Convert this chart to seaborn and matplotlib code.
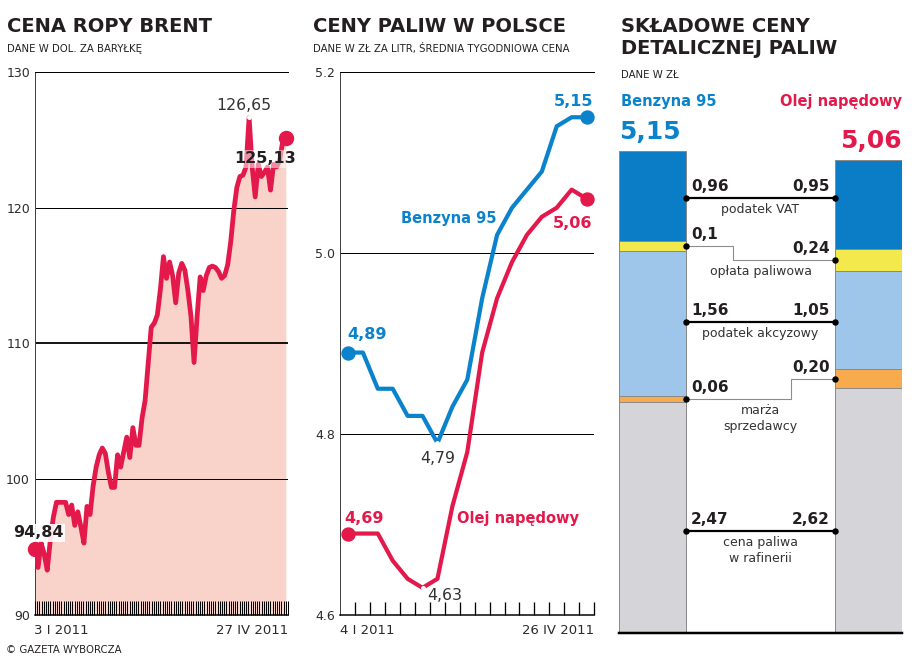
import numpy as np
import pandas as pd
import matplotlib.pyplot as plt
import seaborn as sns

# brent oil, daily close, USD per barrel (trading days 3 I - 27 IV 2011)
brent_price = [
    94.84, 93.5, 95.3, 94.5, 93.3, 95.5, 97.2, 98.3, 98.3, 98.3,
    98.3, 97.4, 98.1, 96.6, 97.6, 96.5, 95.3, 98.0, 97.4, 99.5,
    100.9, 101.8, 102.3, 101.9, 100.5, 99.4, 99.4, 101.8, 100.9, 102.0,
    103.1, 101.6, 103.8, 102.5, 102.5, 104.5, 105.8, 108.5, 111.2, 111.5,
    112.1, 114.0, 116.4, 114.8, 116.0, 115.0, 113.0, 115.2, 115.9, 115.4,
    113.9, 112.0, 108.6, 112.0, 114.9, 113.9, 115.0, 115.6, 115.7, 115.6,
    115.3, 114.8, 115.0, 115.8, 117.5, 119.8, 121.5, 122.3, 122.4, 123.0,
    126.65, 123.0, 120.8, 123.2, 122.3, 122.6, 123.0, 121.3, 123.2, 123.0,
    123.5, 124.9, 125.13,
]
n_calendar_days = 115  # 3 I - 27 IV, one tick mark per day

# weekly average fuel prices, PLN per litre (4 I - 26 IV 2011)
pb95_price = [4.89, 4.89, 4.85, 4.85, 4.82, 4.82, 4.79, 4.83, 4.86,
              4.95, 5.02, 5.05, 5.07, 5.09, 5.14, 5.15, 5.15]
on_price = [4.69, 4.69, 4.69, 4.66, 4.64, 4.63, 4.64, 4.72, 4.78,
            4.89, 4.95, 4.99, 5.02, 5.04, 5.05, 5.07, 5.06]

# components of the retail price, PLN
fuels = ['Benzyna 95', 'Olej napędowy']
refinery = [2.47, 2.62]
margin = [0.06, 0.20]
excise = [1.56, 1.05]
fuel_fee = [0.10, 0.24]
vat = [0.96, 0.95]

RED = '#e3194b'
BLUE = '#0b83cc'
PINK = '#f9d3c9'
DARK = '#231f20'
TXT = '#2a2a2a'

sns.set_style('white')
plt.rcParams['font.family'] = ['DejaVu Sans']

W, H = 914, 657


def box(x0, y0, x1, y1):
    # pixel rectangle -> figure fraction
    return [x0 / W, 1 - y1 / H, (x1 - x0) / W, (y1 - y0) / H]


def px(n):
    # pixels -> points (dpi 100)
    return n * 0.72


def fmt(v):
    return f'{v:.2f}'.replace('.', ',')


fig = plt.figure(figsize=(W / 100, H / 100), dpi=100)

# ---------------- panel 1: brent ----------------
ax1 = fig.add_axes(box(35, 72, 288, 615))
ax1.set_axisbelow(False)
df_b = pd.DataFrame({'day': np.arange(len(brent_price)), 'price': brent_price})
ax1.fill_between(df_b['day'], df_b['price'], 90, color=PINK, lw=0, zorder=1)
for y, w in [(100, 1), (110, 1.8), (120, 1)]:
    ax1.axhline(y, color='black', lw=px(w), zorder=1.5)
sns.lineplot(data=df_b, x='day', y='price', ax=ax1, color=RED, lw=px(4.8), zorder=3)
ax1.set_xlim(0, 82.4)
ax1.set_ylim(90, 130)
# calendar-day tick marks spread over the trading-day axis
ax1.set_xticks(np.arange(n_calendar_days + 1) * (len(brent_price) - 1) / (n_calendar_days - 1))
ax1.set_xticklabels([])
ax1.set_yticks([90, 100, 110, 120, 130])
ax1.tick_params(axis='x', direction='in', length=px(14), width=px(1), color='black', bottom=True)
ax1.tick_params(axis='y', length=0, pad=px(5), labelsize=9, labelcolor=TXT)
ax1.set_xlabel('')
ax1.set_ylabel('')
ax1.spines['right'].set_visible(False)
ax1.spines['top'].set_linewidth(px(1))
ax1.spines['top'].set_color('black')
ax1.spines['left'].set_color('#444444')
ax1.spines['left'].set_linewidth(px(1))
ax1.spines['bottom'].set_color('black')
ax1.spines['bottom'].set_linewidth(px(1.5))

first, last = brent_price[0], brent_price[-1]
i_max = int(np.argmax(brent_price))
ax1.plot([0, len(brent_price) - 1], [first, last], 'o', ms=px(14), color=RED,
         clip_on=False, zorder=4)
ax1.plot([i_max], [brent_price[i_max]], 'o', ms=px(3.5), color='white', zorder=5)
ax1.annotate(fmt(first), (0, first), xytext=(px(3), px(12)), textcoords='offset points',
             ha='center', va='baseline', fontsize=11.4, fontweight='bold', color=DARK,
             bbox=dict(fc='white', ec='none', pad=1, alpha=0.9), annotation_clip=False, zorder=6)
ax1.annotate(fmt(brent_price[i_max]), (i_max, brent_price[i_max]), xytext=(px(-5), px(7.5)),
             textcoords='offset points', ha='center', va='baseline', fontsize=11.3,
             color='#333333', zorder=6)
ax1.annotate(fmt(last), (len(brent_price) - 1, last), xytext=(px(-21), px(-25)),
             textcoords='offset points', ha='center', va='baseline', fontsize=11.5,
             fontweight='bold', color=DARK, annotation_clip=False, zorder=6,
             bbox=dict(fc='white', ec='none', pad=1, alpha=0.5))

# ---------------- panel 2: weekly fuel prices ----------------
ax2 = fig.add_axes(box(340, 72, 594, 615))
ax2.set_axisbelow(False)
df_w = pd.DataFrame({'week': np.arange(len(pb95_price)), 'pb95': pb95_price, 'on': on_price})
for y in [4.8, 5.0]:
    ax2.axhline(y, color='black', lw=px(1), zorder=1)
sns.lineplot(data=df_w, x='week', y='pb95', ax=ax2, color=BLUE, lw=px(4.2), zorder=3)
sns.lineplot(data=df_w, x='week', y='on', ax=ax2, color=RED, lw=px(4.2), zorder=3)
n_w = len(pb95_price)
ax2.set_xlim(-0.536, n_w - 1 + 0.49)
ax2.set_ylim(4.6, 5.2)
ax2.set_xticks(np.arange(n_w) + 0.5)
ax2.set_xticklabels([])
ax2.set_yticks([4.6, 4.8, 5.0, 5.2])
ax2.set_yticklabels(['4.6', '4.8', '5.0', '5.2'])
ax2.tick_params(axis='x', direction='in', length=px(13), width=px(1.3), color='black', bottom=True)
ax2.tick_params(axis='y', length=0, pad=px(5), labelsize=9, labelcolor=TXT)
ax2.set_xlabel('')
ax2.set_ylabel('')
ax2.spines['right'].set_visible(False)
ax2.spines['top'].set_linewidth(px(1))
ax2.spines['top'].set_color('black')
ax2.spines['left'].set_color('#444444')
ax2.spines['left'].set_linewidth(px(1))
ax2.spines['bottom'].set_color('black')
ax2.spines['bottom'].set_linewidth(px(1.5))

for series, col in [(pb95_price, BLUE), (on_price, RED)]:
    ax2.plot([0, n_w - 1], [series[0], series[-1]], 'o', ms=px(13), color=col,
             clip_on=False, zorder=4)
    i_min = int(np.argmin(series))
    ax2.plot([i_min], [series[i_min]], 'o', ms=px(3.5), color='white', zorder=5)

ann = dict(textcoords='offset points', ha='center', va='baseline', annotation_clip=False, zorder=6)
ax2.annotate(fmt(pb95_price[0]), (0, pb95_price[0]), xytext=(px(19), px(14)),
             fontsize=11.5, fontweight='bold', color=BLUE, **ann)
ax2.annotate(fmt(on_price[0]), (0, on_price[0]), xytext=(px(16), px(11)),
             fontsize=11.5, fontweight='bold', color=RED, **ann)
ax2.annotate(fmt(pb95_price[-1]), (n_w - 1, pb95_price[-1]), xytext=(px(-13), px(11)),
             fontsize=11.5, fontweight='bold', color=BLUE, **ann)
ax2.annotate(fmt(on_price[-1]), (n_w - 1, on_price[-1]), xytext=(px(-14), px(-29)),
             fontsize=11.5, fontweight='bold', color=RED, **ann)
i_b = int(np.argmin(pb95_price))
i_o = int(np.argmin(on_price))
ax2.annotate(fmt(pb95_price[i_b]), (i_b, pb95_price[i_b]), xytext=(0, px(-20)),
             fontsize=11.3, color='#333333', **ann)
ax2.annotate(fmt(on_price[i_o]), (i_o, on_price[i_o]), xytext=(px(22), px(-12)),
             fontsize=11.3, color='#333333', **ann)
ax2.text(9.99, 5.033, 'Benzyna 95', ha='right', va='baseline', fontsize=10.5,
         fontweight='bold', color=BLUE)
ax2.text(7.3, 4.7017, 'Olej napędowy', ha='left', va='baseline', fontsize=10.5,
         fontweight='bold', color=RED)

# ---------------- panel 3: price components ----------------
ax3 = fig.add_axes(box(619, 72, 902, 633))
stack = np.array([refinery, margin, excise, fuel_fee, vat])
cum = stack.cumsum(axis=0)
seg_colors = ['#d5d5d9', '#f8ab4d', '#9dc6ea', '#f4e94c', '#0a7dc6']
for k in reversed(range(len(stack))):
    sns.barplot(x=fuels, y=cum[k], color=seg_colors[k], width=0.31, saturation=1,
                edgecolor='#8a8a8a', linewidth=px(1), ax=ax3)
ax3.set_xlim(-0.155, 1.155)
ax3.set_ylim(0, 6.0)
ax3.set_xticks([])
ax3.set_yticks([])
ax3.set_xlabel('')
ax3.set_ylabel('')
for s in ['left', 'right', 'top']:
    ax3.spines[s].set_visible(False)
ax3.spines['bottom'].set_color('black')
ax3.spines['bottom'].set_linewidth(px(2.5))

names = ['cena paliwa\nw rafinerii', 'marża\nsprzedawcy', 'podatek akcyzowy',
         'opłata paliwowa', 'podatek VAT']
labels = [[fmt(v) for v in row] for row in stack]
labels[3][0] = '0,1'  # printed this way in the source
link_y = [1.09, None, 3.33, None, 4.65]   # straight connectors
step_x = [None, 0.641, None, 0.373, None]  # stepped connectors
xl, xr = 0.155, 0.845
for k in range(len(stack)):
    if link_y[k] is not None:
        yl = yr = link_y[k]
        ax3.plot([xl, xr], [yl, yr], color='black', lw=px(2.2), zorder=5)
    else:
        yl = cum[k][0] - stack[k][0] / 2
        yr = cum[k][1] - stack[k][1] / 2
        sx = step_x[k]
        ax3.plot([xl, sx, sx, xr], [yl, yl, yr, yr], color='#8c8c8c', lw=px(1.1), zorder=5)
    ax3.plot([xl, xr], [yl, yr], 'o', color='black', ms=px(5), zorder=6)
    ax3.annotate(labels[k][0], (xl, yl), xytext=(px(5), px(4)), textcoords='offset points',
                 ha='left', va='bottom', fontsize=11, fontweight='bold', color=DARK)
    ax3.annotate(labels[k][1], (xr, yr), xytext=(px(-5), px(4)), textcoords='offset points',
                 ha='right', va='bottom', fontsize=11, fontweight='bold', color=DARK)
    ax3.annotate(names[k], (0.5, min(yl, yr)), xytext=(0, px(-5)), textcoords='offset points',
                 ha='center', va='top', fontsize=9, color='#333333', linespacing=1.3)

totals = cum[-1]
ax3.annotate(fmt(totals[0]), (-0.155, totals[0]), xytext=(0, px(12)), textcoords='offset points',
             ha='left', va='baseline', fontsize=18, fontweight='bold', color=BLUE,
             annotation_clip=False)
ax3.annotate(fmt(totals[1]), (1.155, totals[1]), xytext=(0, px(12)), textcoords='offset points',
             ha='right', va='baseline', fontsize=18, fontweight='bold', color=RED,
             annotation_clip=False)

# ---------------- titles and texts ----------------
def ftext(x, y, s, **kw):
    kw.setdefault('color', DARK)
    kw.setdefault('va', 'baseline')
    fig.text(x / W, 1 - y / H, s, **kw)


ftext(7, 32, 'CENA ROPY BRENT', fontsize=14, fontweight='bold')
ftext(7, 52, 'DANE W DOL. ZA BARYŁKĘ', fontsize=7.3)
ftext(313, 32, 'CENY PALIW W POLSCE', fontsize=14, fontweight='bold')
ftext(313, 52, 'DANE W ZŁ ZA LITR, ŚREDNIA TYGODNIOWA CENA', fontsize=7.3)
ftext(621, 32, 'SKŁADOWE CENY', fontsize=14, fontweight='bold')
ftext(621, 54, 'DETALICZNEJ PALIW', fontsize=14, fontweight='bold')
ftext(621, 78, 'DANE W ZŁ', fontsize=7.3)
ftext(621, 106, fuels[0], fontsize=10.5, fontweight='bold', color=BLUE)
ftext(902, 106, fuels[1], fontsize=10.5, fontweight='bold', color=RED, ha='right')
ftext(34, 634, '3 I 2011', fontsize=9.5, color=TXT)
ftext(288, 634, '27 IV 2011', fontsize=9.5, color=TXT, ha='right')
ftext(340, 634, '4 I 2011', fontsize=9.5, color=TXT)
ftext(594, 634, '26 IV 2011', fontsize=9.5, color=TXT, ha='right')
ftext(6, 653, '© GAZETA WYBORCZA', fontsize=7.3)

fig.savefig('out.png', dpi=100)
